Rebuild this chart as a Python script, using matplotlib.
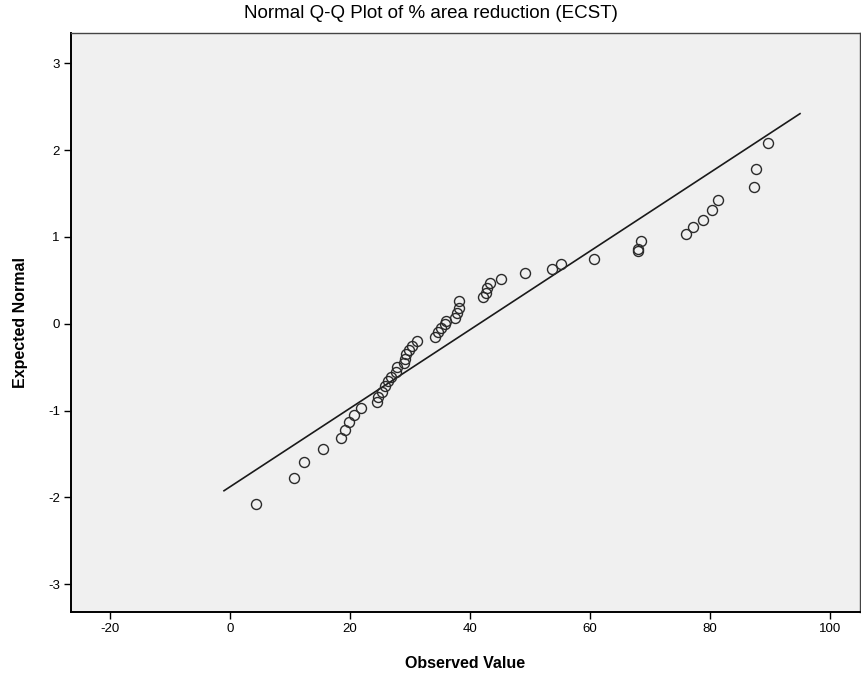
import numpy as np
import matplotlib.pyplot as plt

plt.rcParams['axes.unicode_minus'] = False

observed = [4.4, 10.6, 12.4, 15.5, 18.5, 19.2, 19.9, 20.7, 21.9, 24.5,
            24.6, 25.4, 25.8, 26.3, 26.8, 27.7, 27.8, 29.0, 29.1, 29.3,
            29.9, 30.4, 31.2, 34.1, 34.6, 35.1, 35.8, 36.0, 37.5, 37.8,
            38.2, 38.2, 42.2, 42.6, 42.9, 43.3, 45.1, 49.1, 53.6, 55.1,
            60.7, 68.0, 68.0, 68.5, 76.0, 77.2, 78.8, 80.4, 81.3, 87.3,
            87.7, 89.7]
expected = [-2.08, -1.78, -1.59, -1.44, -1.32, -1.22, -1.13, -1.05, -0.97, -0.90,
            -0.84, -0.78, -0.72, -0.66, -0.61, -0.55, -0.50, -0.45, -0.40, -0.35,
            -0.30, -0.25, -0.20, -0.15, -0.10, -0.05, 0.00, 0.03, 0.07, 0.12,
            0.18, 0.26, 0.31, 0.36, 0.41, 0.47, 0.52, 0.58, 0.63, 0.69,
            0.75, 0.84, 0.86, 0.95, 1.03, 1.11, 1.20, 1.31, 1.43, 1.58,
            1.78, 2.08]

# Reference line: normal with estimated mean / sd, drawn over this x range
line_mean = 41.5
line_sd = 22.1
line_x = [-1.0, 95.0]

xticks = [-20, 0, 20, 40, 60, 80, 100]
yticks = [-3, -2, -1, 0, 1, 2, 3]

narrow = ['Liberation Sans Narrow', 'Liberation Sans', 'DejaVu Sans']

fig = plt.figure(figsize=(8.61, 6.77), dpi=100)
ax = fig.add_axes([71 / 861, 65 / 677, 789 / 861, 579 / 677])
ax.set_facecolor('#F0F0F0')

lx = np.array(line_x)
ax.plot(lx, (lx - line_mean) / line_sd, color='#1a1a1a', linewidth=1.2, zorder=2)
ax.plot(observed, expected, linestyle='none', marker='o', markersize=7.2,
        markerfacecolor='none', markeredgecolor='#2a2a2a', markeredgewidth=1.0, zorder=3)

ax.set_xlim(-26.5, 105)
ax.set_ylim(-3.32, 3.35)
ax.set_xticks(xticks)
ax.set_yticks(yticks)
ax.tick_params(direction='out', length=5, width=1, color='black',
               labelsize=9.5, pad=3)
for lab in ax.get_xticklabels() + ax.get_yticklabels():
    lab.set_family(narrow)

for side in ['left', 'bottom']:
    ax.spines[side].set_linewidth(1.4)
    ax.spines[side].set_color('black')
for side in ['top', 'right']:
    ax.spines[side].set_linewidth(1.0)
    ax.spines[side].set_color('#444444')

fig.text(0.5, 1 - 13 / 677, 'Normal Q-Q Plot of % area reduction (ECST)',
         ha='center', va='center', fontsize=13.5, family=narrow)
ax.set_xlabel('Observed Value', fontsize=11.5, fontweight='bold',
              family=['Liberation Sans', 'DejaVu Sans'], labelpad=15)
ax.set_ylabel('Expected Normal', fontsize=11.5, fontweight='bold',
              family=['Liberation Sans', 'DejaVu Sans'], labelpad=14)

fig.savefig('out.png', dpi=100)
